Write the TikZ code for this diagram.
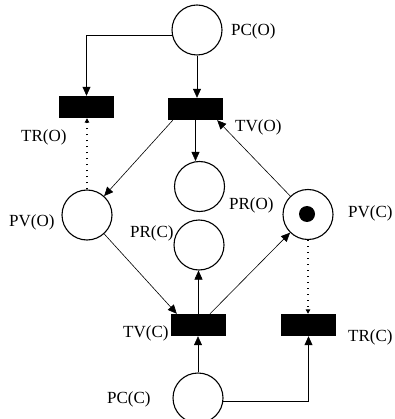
\documentclass[tikz,border=0pt]{standalone}
\usepackage{fontspec}
\setmainfont{Liberation Serif}
\usetikzlibrary{arrows.meta,calc}

\tikzset{
  place/.style={circle, draw, line width=1.1pt, minimum size=50pt, inner sep=0pt},
  trans/.style={rectangle, fill=black, minimum width=55pt, minimum height=22pt, inner sep=0pt},
  token/.style={circle, fill=black, minimum size=16pt, inner sep=0pt},
  lbl/.style={anchor=base west, inner sep=0pt, font=\fontsize{17}{17}\selectfont},
  arc/.style={line width=0.6pt, -{Triangle[length=9pt,width=8pt]}},
  inhib/.style={line width=1.4pt, dash pattern=on 1.4pt off 4.6pt,
                -{Triangle[length=4.5pt,width=4.5pt]}}
}

\begin{document}
\begin{tikzpicture}[x=1pt, y=-1pt]
  \useasboundingbox (0,0) rectangle (394,419);

  % places
  \node[place] (pco) at (197,30) {};
  \node[place] (pro) at (199.5,186.5) {};
  \node[place] (pvo) at (87,215) {};
  \node[place] (pvc) at (308,214.5) {};
  \node[place] (prc) at (199,245) {};
  \node[place] (pcc) at (198,398) {};
  \node[token] (tok) at (307,214) {};

  % transitions
  \node[trans] (tro) at (86.5,107) {};
  \node[trans] (tvo) at (195.5,109) {};
  \node[trans] (tvc) at (198.5,325) {};
  \node[trans] (trc) at (308.5,325) {};

  % labels
  \node[lbl] (lpco) at (231,35.7) {PC(O)};
  \node[lbl] (ltro) at (21,142) {TR(O)};
  \node[lbl] (ltvo) at (235,132) {TV(O)};
  \node[lbl] (lpro) at (229,209) {PR(O)};
  \node[lbl] (lpvo) at (9,226.7) {PV(O)};
  \node[lbl] (lprc) at (130,237) {PR(C)};
  \node[lbl] (lpvc) at (348,218) {PV(C)};
  \node[lbl] (ltvc) at (123,337) {TV(C)};
  \node[lbl] (ltrc) at (348,341) {TR(C)};
  \node[lbl] (lpcc) at (107,403) {PC(C)};

  % attachment points on the transitions
  \coordinate (tvoA) at ($(tvo.south west)+(5,0)$);
  \coordinate (tvoB) at ($(tvo.south east)+(-6,0)$);
  \coordinate (tvcA) at ($(tvc.north west)+(6,0)$);
  \coordinate (tvcB) at ($(tvc.north)+(11.5,0)$);

  % arcs
  \draw[arc] (pco.191.5) -| (tro.north);
  \draw[arc] (pco.south) -- (pco.south |- tvo.north);
  \draw[arc] (tvoA) -- (pvo);
  \draw[arc] (tvo.south) -- (tvo.south |- pro.north);
  \draw[arc] (pvc) -- (tvoB);
  \draw[arc] (pvo) -- (tvcA);
  \draw[arc] (tvc.north) -- (tvc.north |- prc.south);
  \draw[arc] (tvcB) -- (pvc);
  \draw[arc] (pcc.north) -- (pcc.north |- tvc.south);
  \draw[arc] (pcc.-7) -| (trc.south);

  % dotted arcs
  \draw[inhib] (pvo.north) -- (pvo.north |- tro.south);
  \draw[inhib] (pvc.south) -- (pvc.south |- trc.north);
\end{tikzpicture}
\end{document}
